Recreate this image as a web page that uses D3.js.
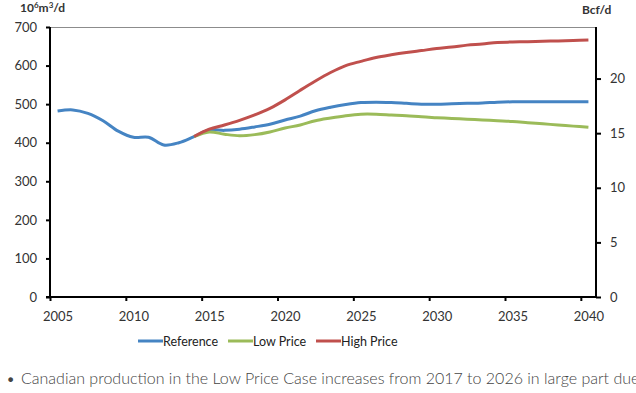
<!DOCTYPE html>
<html>
<head>
<meta charset="utf-8">
<script src="https://cdn.jsdelivr.net/npm/d3@7"></script>
<style>
  body { margin: 0; background: #fff; }
  svg { display: block; font-family: Lato, "Open Sans", sans-serif; }
</style>
</head>
<body>
<div id="chart"></div>
<script>
// categories (one per year)
const years = [2005, 2006, 2007, 2008, 2009, 2010, 2011, 2012, 2013, 2014,
  2015, 2016, 2017, 2018, 2019, 2020, 2021, 2022, 2023, 2024,
  2025, 2026, 2027, 2028, 2029, 2030, 2031, 2032, 2033, 2034,
  2035, 2036, 2037, 2038, 2039, 2040];

// 10^6 m3/d
const referenceValues = [482, 485, 476, 457, 430, 414, 414, 394, 400, 416,
  433, 432, 435, 441, 448, 459, 469, 483, 492, 499,
  504, 505, 504, 502, 500, 500, 501, 502, 503, 505,
  506, 506, 506, 506, 506, 506];
// scenario cases start at 2014
const lowPriceValues = [416,
  428, 422, 418, 421, 428, 438, 446, 457, 464, 470,
  474, 474, 472, 470, 467, 465, 463, 461, 459, 457,
  455, 452, 449, 446, 443, 440];
const highPriceValues = [416,
  435, 446, 458, 472, 489, 511, 536, 560, 582, 600,
  611, 621, 628, 634, 639, 644, 648, 653, 656, 660,
  661, 662, 663, 664, 665, 666];

const leftTicks = [0, 100, 200, 300, 400, 500, 600, 700];
const rightTicks = [0, 5, 10, 15, 20];
const xTickYears = [2005, 2010, 2015, 2020, 2025, 2030, 2035, 2040];
const M3_PER_BCF = 28.317; // 10^6 m3 in one Bcf

const seriesNames = ["Reference", "Low Price", "High Price"];
const seriesColors = ["#4584c3", "#9bbb59", "#c0504d"];

const series = [
  { name: seriesNames[0], color: seriesColors[0], start: 2005, values: referenceValues },
  { name: seriesNames[1], color: seriesColors[1], start: 2014, values: lowPriceValues },
  { name: seriesNames[2], color: seriesColors[2], start: 2014, values: highPriceValues },
];

const W = 636, H = 393;
const plot = { left: 50, right: 596, top: 27, bottom: 297 };

const svg = d3.select("#chart").append("svg")
  .attr("width", W).attr("height", H);

// category axis: ticks between categories, points at centres
const x = d3.scaleLinear()
  .domain([years[0], years[years.length - 1] + 1])
  .range([plot.left, plot.right]);
const band = x(years[0] + 1) - x(years[0]);

const y = d3.scaleLinear().domain([0, 700]).range([plot.bottom, plot.top]);
const yR = d3.scaleLinear().domain([0, 700 / M3_PER_BCF]).range([plot.bottom, plot.top]);

// plot border top
svg.append("line")
  .attr("x1", plot.left).attr("x2", plot.right)
  .attr("y1", plot.top + 0.5).attr("y2", plot.top + 0.5)
  .attr("stroke", "#8c8c8c").attr("stroke-width", 1);

// left axis
const gL = svg.append("g")
  .attr("transform", `translate(${plot.left},0)`)
  .call(d3.axisLeft(y).tickValues(leftTicks).tickSize(4).tickPadding(9));

// right axis
const gR = svg.append("g")
  .attr("transform", `translate(${plot.right},0)`)
  .call(d3.axisRight(yR).tickValues(rightTicks).tickSize(5).tickPadding(9));

// bottom axis
const gB = svg.append("g")
  .attr("transform", `translate(0,${plot.bottom})`)
  .call(d3.axisBottom(x).tickValues(xTickYears).tickFormat(d3.format("d"))
    .tickSize(4).tickPadding(11));
gB.selectAll(".tick text").attr("dx", band / 2);

[gL, gR, gB].forEach((g) => {
  g.select(".domain").attr("stroke", "#000").attr("stroke-width", 2);
  g.selectAll(".tick line").attr("stroke", "#000").attr("stroke-width", 2);
  g.selectAll(".tick text")
    .attr("fill", "#333")
    .style("font-size", "13px")
    .style("font-family", "Lato, sans-serif");
});
gL.select(".domain").attr("d", `M-4,${plot.bottom}H0V${plot.top}`);
gR.select(".domain").attr("d", `M0,${plot.top}V${plot.bottom}`);
gB.select(".domain").attr("d", `M${plot.left},0H${plot.right}`);

// unit labels
svg.append("text")
  .attr("x", 20).attr("y", 12)
  .attr("fill", "#333")
  .style("font-size", "12px").style("font-weight", "bold")
  .html('10<tspan dy="-4" font-size="8">6</tspan><tspan dy="4">m</tspan><tspan dy="-4" font-size="8">3</tspan><tspan dy="4">/d</tspan>');

svg.append("text")
  .attr("x", 582).attr("y", 14)
  .attr("fill", "#333")
  .style("font-size", "12px").style("font-weight", "bold")
  .text("Bcf/d");

// lines
const line = d3.line()
  .x((d) => x(d.year + 0.5))
  .y((d) => y(d.value))
  .curve(d3.curveCatmullRom.alpha(0.5));

series.forEach((s) => {
  const pts = s.values.map((v, i) => ({ year: s.start + i, value: v }));
  svg.append("path")
    .datum(pts)
    .attr("fill", "none")
    .attr("stroke", s.color)
    .attr("stroke-width", 3)
    .attr("stroke-linejoin", "round")
    .attr("d", line);
});

// legend
const legendX = [138, 228, 316];
const legend = svg.append("g").attr("transform", "translate(0,341)");
series.forEach((s, i) => {
  const g = legend.append("g").attr("transform", `translate(${legendX[i]},0)`);
  g.append("line").attr("x1", 0).attr("x2", 25)
    .attr("stroke", s.color).attr("stroke-width", 3);
  g.append("text").attr("x", 25).attr("y", 4.5)
    .attr("fill", "#222")
    .style("font-size", "12.5px")
    .text(s.name);
});

// caption below the chart (runs past the frame, as in the source page)
const caption = svg.append("g").attr("fill", "#444")
  .style("font-size", "16px").style("font-weight", "300");
caption.append("text").attr("x", 6).attr("y", 384).text("\u2022");
caption.append("text").attr("x", 21).attr("y", 384)
  .text("Canadian production in the Low Price Case increases from 2017 to 2026 in large part due to");
caption.append("text").attr("x", 21).attr("y", 405)
  .text("LNG exports. This is followed by production declines as prices remain low.");
</script>
</body>
</html>
